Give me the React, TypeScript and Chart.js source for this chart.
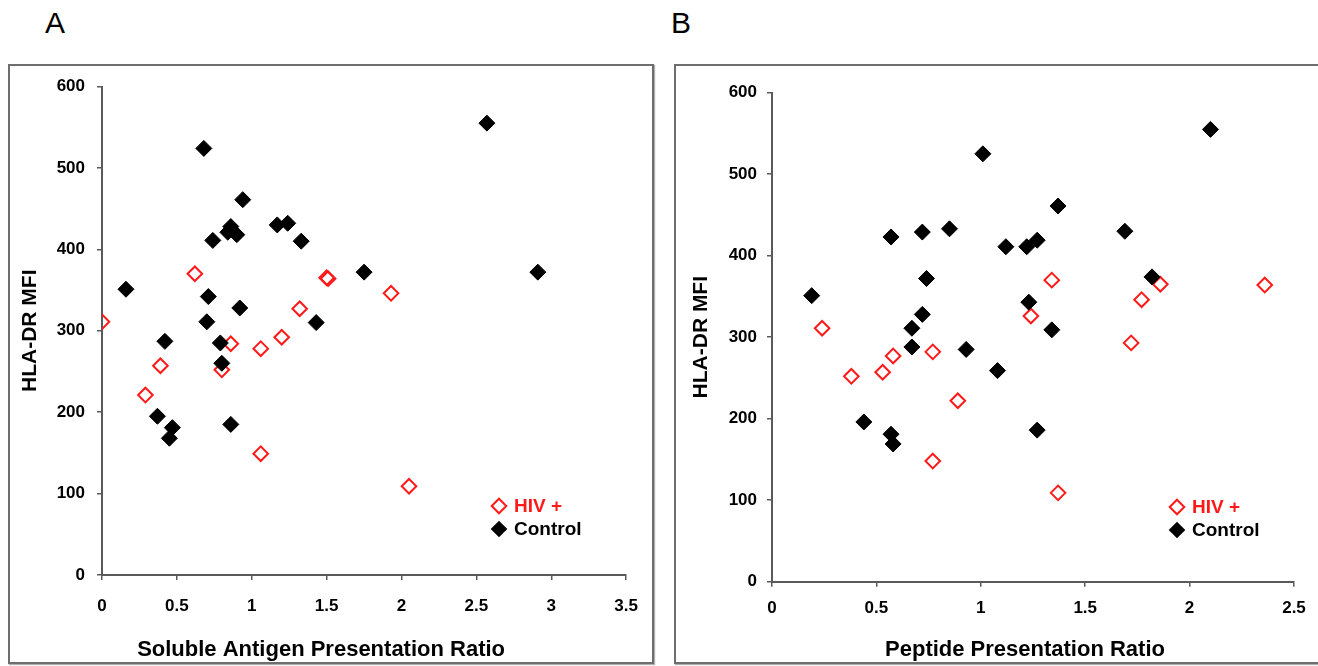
import React, { useEffect, useRef } from 'react';
import { Chart, registerables } from 'chart.js';

Chart.register(...registerables);

// Panel A: Soluble antigen presentation ratio vs HLA-DR MFI
const hivSolubleX = [0.0, 0.62, 1.5, 1.51, 1.32, 1.93, 1.2, 1.06, 0.86, 0.8, 0.39, 0.29, 1.06, 2.05];
const hivSolubleY = [311, 370, 365, 364, 327, 346, 292, 278, 284, 252, 257, 221, 149, 109];
const ctrlSolubleX = [2.57, 0.68, 0.94, 0.74, 0.84, 0.86, 0.9, 1.17, 1.24, 1.33, 2.91, 1.75, 1.43, 0.16, 0.71, 0.92, 0.7, 0.42, 0.79, 0.8, 0.37, 0.47, 0.45, 0.86];
const ctrlSolubleY = [555, 524, 461, 411, 421, 428, 418, 430, 432, 410, 372, 372, 310, 351, 342, 328, 311, 287, 285, 260, 195, 181, 168, 185];

// Panel B: Peptide presentation ratio vs HLA-DR MFI
const hivPeptideX = [0.24, 0.38, 0.53, 0.58, 0.77, 0.89, 0.77, 1.24, 1.34, 1.37, 1.72, 1.77, 1.86, 2.36];
const hivPeptideY = [311, 252, 257, 277, 282, 222, 148, 326, 370, 109, 293, 346, 365, 364];
const ctrlPeptideX = [2.1, 1.01, 1.37, 0.57, 0.72, 0.85, 1.69, 1.12, 1.22, 1.27, 0.74, 1.82, 0.19, 1.23, 0.72, 0.67, 1.34, 0.67, 0.93, 1.08, 0.44, 0.57, 0.58, 1.27];
const ctrlPeptideY = [555, 525, 461, 423, 429, 433, 430, 411, 411, 419, 372, 374, 351, 343, 328, 311, 309, 288, 285, 259, 196, 181, 169, 186];

const seriesNames = ['HIV +', 'Control'];
const panelLetters = ['A', 'B'];
const xTitles = ['Soluble Antigen Presentation Ratio', 'Peptide Presentation Ratio'];
const yTitle = 'HLA-DR MFI';
const xMax = [3.5, 2.5];
const yMax = 600;

const FONT = '"Liberation Sans", Arial, Helvetica, sans-serif';
const RED = '#ff1a1a';
const AXIS = '#5a5a5a';

const zip = (xs: number[], ys: number[]) => xs.map((x, i) => ({ x, y: ys[i] }));

const diamondLegend = {
  id: 'diamondLegend',
  afterDraw(chart: any, _args: any, opts: any) {
    const ctx = chart.ctx;
    ctx.save();
    opts.items.forEach((it: any, i: number) => {
      const cx = opts.x;
      const cy = opts.y + i * opts.gap;
      ctx.beginPath();
      const r = it.fill ? 8.3 : 7.3;
      ctx.moveTo(cx - r, cy);
      ctx.lineTo(cx, cy - r);
      ctx.lineTo(cx + r, cy);
      ctx.lineTo(cx, cy + r);
      ctx.closePath();
      if (it.fill) {
        ctx.fillStyle = it.color;
        ctx.fill();
      } else {
        ctx.lineWidth = 2;
        ctx.strokeStyle = it.color;
        ctx.stroke();
      }
      ctx.font = 'bold 19px ' + FONT;
      ctx.fillStyle = it.color;
      ctx.textBaseline = 'middle';
      ctx.textAlign = 'left';
      ctx.fillText(it.text, cx + 15, cy + 1);
    });
    ctx.restore();
  },
};

const titleShift = {
  id: 'titleShift',
  afterLayout(chart: any, _args: any, opts: any) {
    const s: any = chart.scales.x;
    if (s && !s.__shifted) {
      const orig = s.drawTitle;
      s.drawTitle = function (...a: any[]) {
        this.ctx.save();
        this.ctx.translate(opts.dx || 0, 0);
        orig.apply(this, a);
        this.ctx.restore();
      };
      s.__shifted = true;
    }
  },
};

type PanelCfg = {
  hiv: { x: number; y: number }[];
  ctrl: { x: number; y: number }[];
  xMax: number;
  xTitle: string;
  width: number;
  height: number;
  padTop: number;
  padRight: number;
  yWidth: number;
  xHeight: number;
  xTickPad: number;
  yTickPad: number;
  yTitlePad: number;
  titleDx: number;
  legendX: number;
  legendY: number;
};

function Panel({ cfg }: { cfg: PanelCfg }) {
  const ref = useRef<HTMLCanvasElement | null>(null);
  useEffect(() => {
    if (!ref.current) return;
    const tickFont = { family: FONT, size: 17, weight: 'bold' as const };
    const xTitleFont = { family: FONT, size: 22, weight: 'bold' as const };
    const yTitleFont = { family: FONT, size: 21, weight: 'bold' as const };
    const chart = new Chart(ref.current, {
      type: 'scatter',
      data: {
        datasets: [
          {
            label: seriesNames[1],
            data: cfg.ctrl,
            pointStyle: 'rectRot',
            pointRadius: 8,
            pointBackgroundColor: '#000',
            pointBorderColor: '#000',
            pointBorderWidth: 1,
          },
          {
            label: seriesNames[0],
            data: cfg.hiv,
            pointStyle: 'rectRot',
            pointRadius: 7.3,
            pointBackgroundColor: 'rgba(255,255,255,0)',
            pointBorderColor: RED,
            pointBorderWidth: 2,
          },
        ],
      },
      options: {
        responsive: false,
        animation: false,
        events: [],
        layout: { padding: { left: 0, right: cfg.padRight, top: cfg.padTop, bottom: 0 } },
        plugins: {
          legend: { display: false },
          tooltip: { enabled: false },
          titleShift: { dx: cfg.titleDx },
          diamondLegend: {
            x: cfg.legendX,
            y: cfg.legendY,
            gap: 23,
            items: [
              { text: seriesNames[0], color: RED, fill: false },
              { text: seriesNames[1], color: '#000', fill: true },
            ],
          },
        } as any,
        scales: {
          x: {
            type: 'linear',
            min: 0,
            max: cfg.xMax,
            ticks: {
              stepSize: 0.5,
              padding: cfg.xTickPad,
              color: '#000',
              font: tickFont,
              maxRotation: 0,
              callback: (v: any) => String(Number(v)),
            },
            grid: { drawOnChartArea: false, drawTicks: true, tickLength: 5, color: AXIS, lineWidth: 1.5 },
            border: { display: true, color: AXIS, width: 2 },
            title: { display: true, text: cfg.xTitle, color: '#000', font: xTitleFont, padding: { top: 0, bottom: 1 } },
            afterFit: (s: any) => {
              s.height = cfg.xHeight;
            },
          },
          y: {
            type: 'linear',
            min: 0,
            max: yMax,
            ticks: { stepSize: 100, padding: cfg.yTickPad, color: '#000', font: tickFont },
            grid: { drawOnChartArea: false, drawTicks: true, tickLength: 5, color: AXIS, lineWidth: 1.5 },
            border: { display: true, color: AXIS, width: 2 },
            title: { display: true, text: yTitle, color: '#000', font: yTitleFont, padding: { top: cfg.yTitlePad, bottom: 0 } },
            afterFit: (s: any) => {
              s.width = cfg.yWidth;
            },
          },
        },
      },
      plugins: [titleShift, diamondLegend],
    });
    return () => chart.destroy();
  }, [cfg]);
  return <canvas ref={ref} width={cfg.width} height={cfg.height} style={{ width: cfg.width, height: cfg.height, display: 'block' }} />;
}

const panelA: PanelCfg = {
  hiv: zip(hivSolubleX, hivSolubleY),
  ctrl: zip(ctrlSolubleX, ctrlSolubleY),
  xMax: xMax[0],
  xTitle: xTitles[0],
  width: 646,
  height: 600,
  padTop: 22.5,
  padRight: 25,
  yWidth: 94,
  xHeight: 89,
  xTickPad: 16,
  yTickPad: 12,
  yTitlePad: 10,
  titleDx: -43,
  legendX: 491,
  legendY: 442,
};

const panelB: PanelCfg = {
  hiv: zip(hivPeptideX, hivPeptideY),
  ctrl: zip(ctrlPeptideX, ctrlPeptideY),
  xMax: xMax[1],
  xTitle: xTitles[1],
  width: 644,
  height: 600,
  padTop: 28.7,
  padRight: 24,
  yWidth: 98,
  xHeight: 82.3,
  xTickPad: 11,
  yTickPad: 10,
  yTitlePad: 15,
  titleDx: -8,
  legendX: 503,
  legendY: 443,
};

export default function App() {
  const letterStyle: React.CSSProperties = {
    position: 'absolute',
    top: 8,
    fontFamily: FONT,
    fontSize: 30,
    lineHeight: '30px',
    color: '#000',
  };
  const frame: React.CSSProperties = {
    position: 'absolute',
    top: 64,
    height: 600,
    boxSizing: 'border-box',
    border: '2px solid #6e6e6e',
    boxShadow: '1px 1px 1px #b0b0b0',
    pointerEvents: 'none',
  };
  return (
    <div style={{ position: 'absolute', left: 0, top: 0, width: 1318, height: 666, overflow: 'hidden', background: '#fff' }}>
      <div style={{ ...letterStyle, left: 45 }}>{panelLetters[0]}</div>
      <div style={{ ...letterStyle, left: 671 }}>{panelLetters[1]}</div>
      <div style={{ position: 'absolute', left: 8, top: 64 }}>
        <Panel cfg={panelA} />
      </div>
      <div style={{ position: 'absolute', left: 674, top: 64 }}>
        <Panel cfg={panelB} />
      </div>
      <div style={{ ...frame, left: 8, width: 646 }} />
      <div style={{ ...frame, left: 674, width: 700 }} />
    </div>
  );
}
